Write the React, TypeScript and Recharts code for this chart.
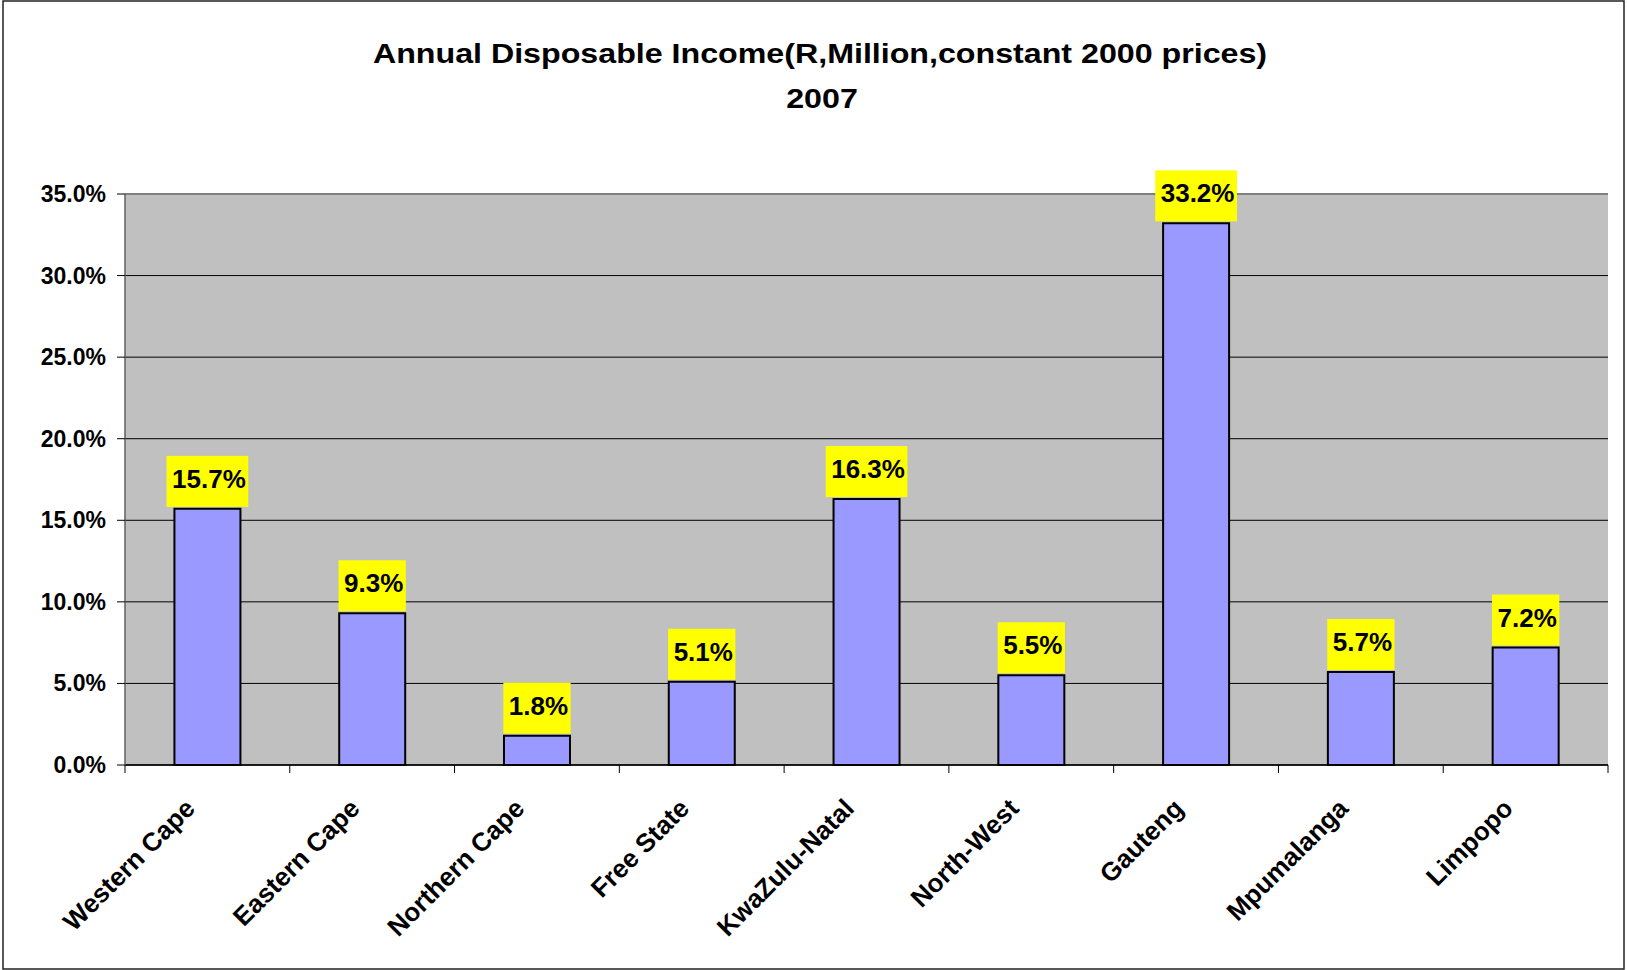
import React from 'react';
import {
  BarChart, Bar, XAxis, YAxis, CartesianGrid, ReferenceLine, LabelList,
} from 'recharts';

const provinces = [
  'Western Cape', 'Eastern Cape', 'Northern Cape', 'Free State', 'KwaZulu-Natal',
  'North-West', 'Gauteng', 'Mpumalanga', 'Limpopo',
];
const incomeShare = [15.7, 9.3, 1.8, 5.1, 16.3, 5.5, 33.2, 5.7, 7.2];
const yTicks = [0, 5, 10, 15, 20, 25, 30, 35];

const titleLines = ['Annual Disposable Income(R,Million,constant 2000 prices)', '2007'];

const data = provinces.map((name, i) => ({ name, value: incomeShare[i] }));

const FONT = '"Liberation Sans", Arial, sans-serif';

// rough Arial bold widths, used to size the yellow label boxes
const glyphW: Record<string, number> = { '.': 0.278, '%': 0.889 };
const textWidth = (s: string, size: number) =>
  s.split('').reduce((w, c) => w + (glyphW[c] ?? 0.556), 0) * size;

const fmt = (v: number) => `${v.toFixed(1)}%`;

function YTick({ x, y, payload }: any) {
  return (
    <text
      x={x - 9}
      y={y + 8}
      textAnchor="end"
      fontFamily={FONT}
      fontWeight="bold"
      fontSize={23}
      fill="#000"
    >
      {fmt(payload.value)}
    </text>
  );
}

// category label + Excel-style tick marks on the category boundaries
function CatTick({ x, y, payload, index, visibleTicksCount }: any) {
  const half = payload.offset ?? 0;
  const last = index === (visibleTicksCount ?? provinces.length) - 1;
  return (
    <g>
      <line x1={x - half} x2={x - half} y1={y} y2={y + 8} stroke="#000" strokeWidth={1} />
      {last && <line x1={x + half} x2={x + half} y1={y} y2={y + 8} stroke="#000" strokeWidth={1} />}
      <text
        transform={`translate(${x - 11},${y + 45}) rotate(-45)`}
        textAnchor="end"
        fontFamily={FONT}
        fontWeight="bold"
        fontSize={26}
        fill="#000"
      >
        {payload.value}
      </text>
    </g>
  );
}

function ValueBox({ x, y, width, value }: any) {
  const label = fmt(Number(value));
  const w = textWidth(label, 26) + 8;
  const cx = x + width / 2;
  const bottom = y - 2;
  return (
    <g>
      <rect x={cx - w / 2} y={bottom - 51} width={w} height={51} fill="#FFFF00" />
      <text
        x={cx + 1.5}
        y={bottom - 19}
        textAnchor="middle"
        fontFamily={FONT}
        fontWeight="bold"
        fontSize={26}
        fill="#000"
      >
        {label}
      </text>
    </g>
  );
}

export default function App() {
  return (
    <div style={{ position: 'absolute', left: 0, top: 0, width: 1627, height: 970, background: '#fff' }}>
      <BarChart
        width={1627}
        height={970}
        data={data}
        margin={{ top: 194, right: 19, bottom: 0, left: 0 }}
        barCategoryGap="30%"
      >
        <CartesianGrid
          xAxisId="cat"
          yAxisId="l"
          vertical={false}
          stroke="#000"
          strokeWidth={1}
          fill="#C0C0C0"
          fillOpacity={1}
        />
        <XAxis
          xAxisId="cat"
          dataKey="name"
          height={205}
          interval={0}
          tickLine={false}
          tickSize={0}
          tickMargin={0}
          axisLine={{ stroke: '#000', strokeWidth: 1.5 }}
          tick={<CatTick />}
        />
        <YAxis
          yAxisId="l"
          width={125}
          domain={[0, 35]}
          ticks={yTicks}
          interval={0}
          axisLine={{ stroke: '#606060', strokeWidth: 1.5 }}
          tickLine={{ stroke: '#000', strokeWidth: 1 }}
          tickSize={8}
          tick={<YTick />}
        />
        <YAxis
          yAxisId="r"
          orientation="right"
          width={0}
          domain={[0, 35]}
          tick={false}
          tickLine={false}
          axisLine={{ stroke: '#808080', strokeWidth: 2 }}
        />
        <ReferenceLine xAxisId="cat" yAxisId="l" y={35} stroke="#808080" strokeWidth={2} />
        <Bar
          xAxisId="cat"
          yAxisId="l"
          dataKey="value"
          fill="#9999FF"
          stroke="#000"
          strokeWidth={2}
          isAnimationActive={false}
        >
          <LabelList dataKey="value" content={<ValueBox />} />
        </Bar>
      </BarChart>
      <svg
        width={1627}
        height={970}
        style={{ position: 'absolute', left: 0, top: 0, pointerEvents: 'none' }}
      >
        <text
          transform="translate(820,63) scale(1.15,1)"
          textAnchor="middle"
          fontFamily={FONT}
          fontWeight="bold"
          fontSize={28}
          fill="#000"
        >
          {titleLines[0]}
        </text>
        <text
          transform="translate(822,108) scale(1.15,1)"
          textAnchor="middle"
          fontFamily={FONT}
          fontWeight="bold"
          fontSize={28}
          fill="#000"
        >
          {titleLines[1]}
        </text>
        <rect x={3} y={1} width={1621} height={968} fill="none" stroke="#222" strokeWidth={1.5} />
      </svg>
    </div>
  );
}
